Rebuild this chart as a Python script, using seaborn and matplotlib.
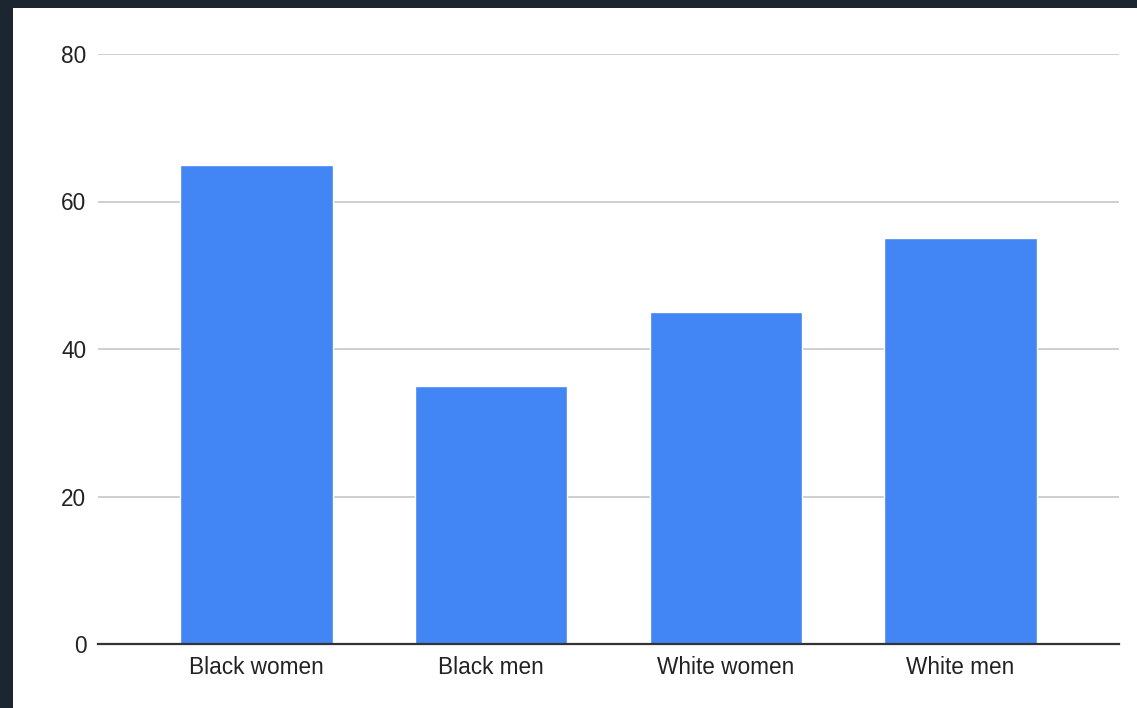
import matplotlib
matplotlib.use("Agg")
import matplotlib.pyplot as plt
from matplotlib.patches import Rectangle
import seaborn as sns
import pandas as pd

categories = ["Black women", "Black men", "White women", "White men"]
values = [65, 35, 45, 55]
y_ticks = [0, 20, 40, 60, 80]

sns.set_theme(style="white")
plt.rcParams["font.family"] = ["Liberation Sans", "DejaVu Sans"]

W, H = 1137, 708
fig = plt.figure(figsize=(W / 100, H / 100), dpi=100)
fig.patch.set_facecolor("#1b2631")
# white card inside the dark frame
fig.patches.append(Rectangle((13 / W, 0), 1 - 13 / W, 1 - 8 / H,
                             transform=fig.transFigure, facecolor="white",
                             edgecolor="none", zorder=-10))

ax = fig.add_axes([98 / W, 64 / H, (1119 - 98) / W, (644 - 54) / H])
ax.set_facecolor("none")

df = pd.DataFrame({"group": categories, "value": values})
sns.barplot(data=df, x="group", y="value", color="#4285F4", saturation=1,
            width=0.65, ax=ax, zorder=3)

ax.set_xlim(-0.675, 3.675)
ax.set_ylim(0, 80)
ax.set_yticks(y_ticks)
ax.yaxis.grid(True, color="#cccccc", linewidth=1.3, zorder=0)
ax.set_axisbelow(True)
for s in ["top", "right", "left"]:
    ax.spines[s].set_visible(False)
ax.spines["bottom"].set_color("#333333")
ax.spines["bottom"].set_linewidth(1.6)
ax.spines["bottom"].set_zorder(4)
ax.tick_params(axis="both", length=0, labelsize=16.3, colors="#222222")
ax.tick_params(axis="y", pad=8.4)
ax.tick_params(axis="x", pad=8.5)
ax.set_xlabel("")
ax.set_ylabel("")

fig.savefig("out.png", dpi=100, facecolor=fig.get_facecolor())
